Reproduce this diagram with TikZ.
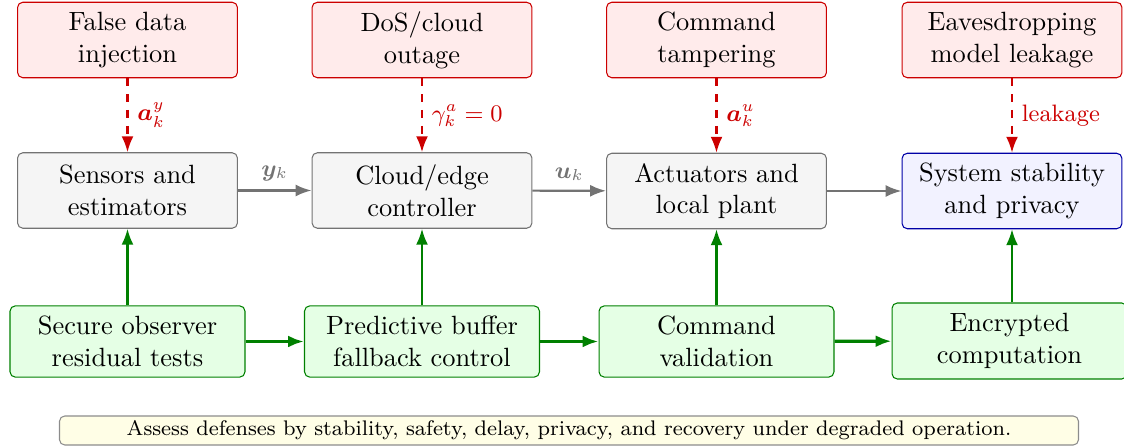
\documentclass[tikz,border=0pt]{standalone}
\usepackage{amsmath,bm}
\usetikzlibrary{arrows.meta}
\begin{document}
\begin{tikzpicture}[x=0.3788pt,y=-0.3788pt,
  box/.style={draw, rounded corners=2pt, align=center, minimum width=83.3pt, minimum height=28.6pt, inner sep=2pt},
  threat/.style={box, draw=red!80!black, fill=red!8},
  comp/.style={box, draw=black!55, fill=black!4},
  goal/.style={box, draw=blue!65!black, fill=blue!5},
  defense/.style={box, draw=green!50!black, fill=green!10, minimum width=89pt, minimum height=27pt},
  atk/.style={draw=red!80!black, thick, dashed, -{Latex[length=6pt,width=4.5pt]}},
  flow/.style={draw=black!55, thick, -{Latex[length=6pt,width=4.5pt]}},
  supp/.style={draw=green!50!black, thick, -{Latex[length=6pt,width=4.5pt]}},
  chain/.style={draw=green!50!black, line width=1.2pt, -{Latex[length=6pt,width=4.5pt]}},
  lblr/.style={right, font=\small, text=red!80!black},
  lblg/.style={above, font=\small, text=black!55},
]
\useasboundingbox (0,0) rectangle (1124,446);
% threats
\node[threat] (t1) at (127.5,40) {False data\\injection};
\node[threat] (t2) at (422,40) {DoS/cloud\\outage};
\node[threat] (t3) at (716.5,40) {Command\\tampering};
\node[threat] (t4) at (1012,40) {Eavesdropping\\model leakage};
% components
\node[comp] (c1) at (127.5,190.5) {Sensors and\\estimators};
\node[comp] (c2) at (422,190.5) {Cloud/edge\\controller};
\node[comp] (c3) at (716.5,191) {Actuators and\\local plant};
\node[goal] (c4) at (1012,191) {System stability\\and privacy};
% defenses
\node[defense] (d1) at (127.5,341.5) {Secure observer\\residual tests};
\node[defense] (d2) at (422,341.5) {Predictive buffer\\fallback control};
\node[defense] (d3) at (716.5,341.5) {Command\\validation};
\node[defense, minimum height=28.8pt] (d4) at (1009.5,341) {Encrypted\\computation};
% note
\node[draw=black!45, fill=yellow!10, rounded corners=2pt, minimum width=386pt, minimum height=11pt, inner sep=1pt, font=\footnotesize] (note) at (569,430.5)
  {Assess defenses by stability, safety, delay, privacy, and recovery under degraded operation.};
% attacks
\draw[atk] (t1) -- node[lblr] {$\bm{a}_k^y$} (c1);
\draw[atk] (t2) -- node[lblr] {$\gamma_k^a=0$} (c2);
\draw[atk] (t3) -- node[lblr] {$\bm{a}_k^u$} (c3);
\draw[atk] (t4) -- node[lblr] {leakage} (c4);
% signal flow
\draw[flow] (c1) -- node[lblg] {$\bm{y}_k$} (c2);
\draw[flow] (c2) -- node[lblg] {$\bm{u}_k$} (c3);
\draw[flow] (c3) -- (c4);
% defenses support
\draw[supp] (d1) -- (c1);
\draw[supp] (d2) -- (c2);
\draw[supp] (d3) -- (c3);
\draw[supp] (d4.north -| c4) -- (c4);
\draw[chain] (d1) -- (d2);
\draw[chain] (d2) -- (d3);
\draw[chain] (d3) -- (d4);
\end{tikzpicture}
\end{document}
